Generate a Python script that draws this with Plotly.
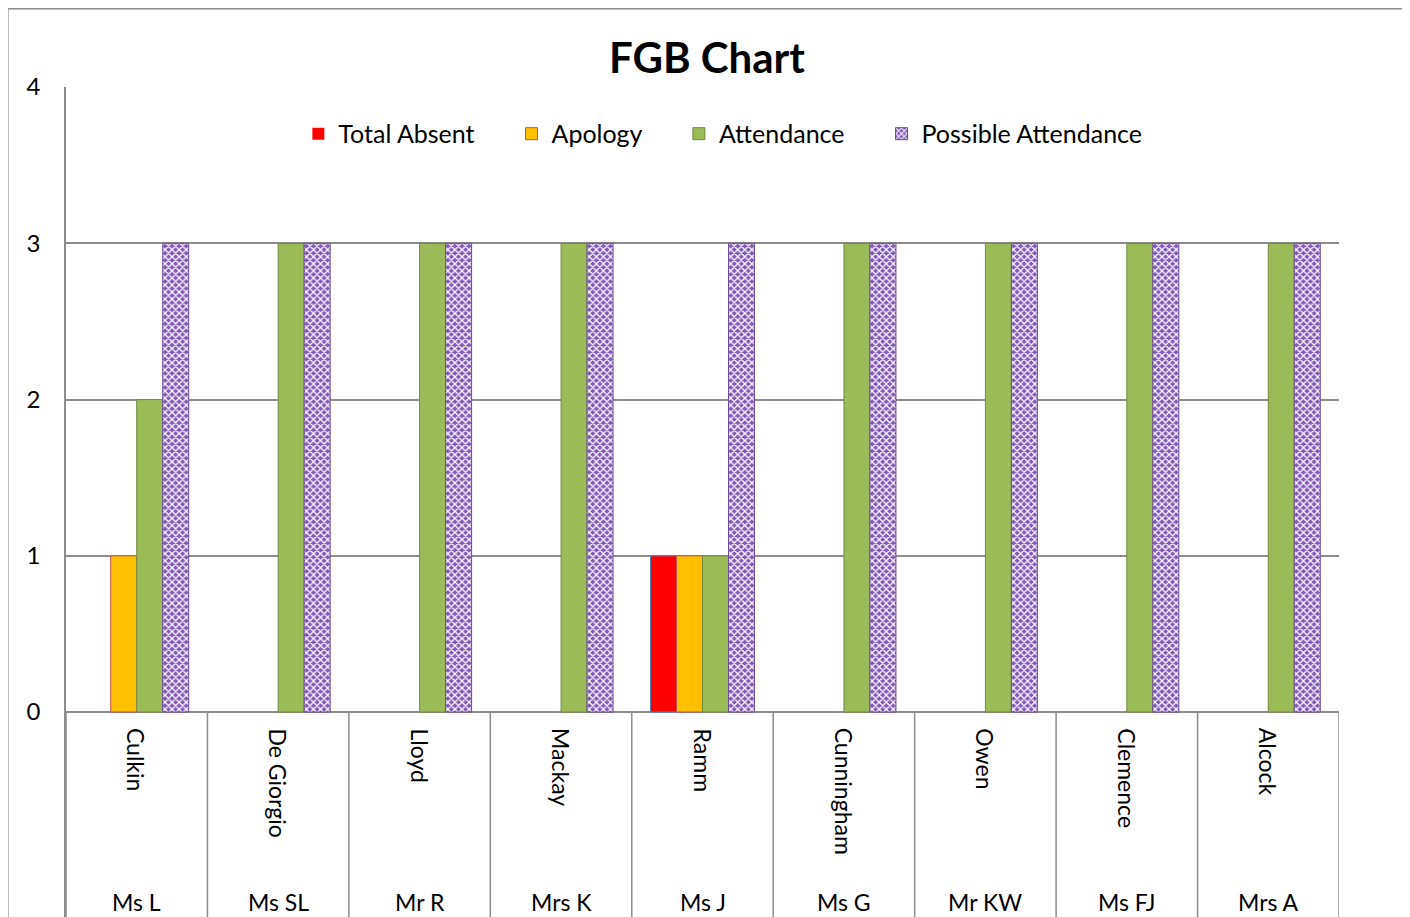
import plotly.graph_objects as go

surnames = ["Culkin", "De Giorgio", "Lloyd", "Mackay", "Ramm", "Cunningham", "Owen", "Clemence", "Alcock"]
titles = ["Ms L", "Ms SL", "Mr R", "Mrs K", "Ms J", "Ms G", "Mr KW", "Ms FJ", "Mrs A"]
total_absent = [0, 0, 0, 0, 1, 0, 0, 0, 0]
apology = [1, 0, 0, 0, 1, 0, 0, 0, 0]
attendance = [2, 3, 3, 3, 1, 3, 3, 3, 3]
possible_attendance = [3, 3, 3, 3, 3, 3, 3, 3, 3]

FONT = "Lato"
GRID = "#8c8c8c"
NB = "\u00a0"


def lw(vals):
    return [1 if v else 0 for v in vals]


fig = go.Figure()
fig.add_bar(x=surnames, y=total_absent, name="Total Absent" + NB * 5,
            marker=dict(color="#FF0000", line=dict(color="#4F81BD", width=lw(total_absent))))
fig.add_bar(x=surnames, y=apology, name="Apology" + NB * 5,
            marker=dict(color="#FFC000", line=dict(color="#C0504D", width=lw(apology))))
fig.add_bar(x=surnames, y=attendance, name="Attendance" + NB * 5,
            marker=dict(color="#9BBB59", line=dict(color="#71893F", width=lw(attendance))))
fig.add_bar(x=surnames, y=possible_attendance, name="Possible Attendance",
            marker=dict(color="#8258B8", line=dict(color="#6A4A96", width=lw(possible_attendance)),
                        pattern=dict(shape="x", fgcolor="white", bgcolor="#8258B8",
                                     size=5, solidity=0.45, fillmode="replace")))

shapes = []
for i in range(len(surnames) + 1):
    shapes.append(dict(type="line", xref="x", yref="y", x0=i - 0.5, x1=i - 0.5,
                       y0=-1.5, y1=0, line=dict(color=GRID, width=1.5)))
shapes.append(dict(type="rect", xref="paper", yref="paper",
                   x0=-0.0457, x1=1.0526, y0=-0.05, y1=1.0935,
                   line=dict(color="#8c8c8c", width=1.5), layer="below"))

annotations = []
for s, t in zip(surnames, titles):
    annotations.append(dict(x=s, y=-0.09, xref="x", yref="y", text=s, textangle=90,
                            showarrow=False, xanchor="center", yanchor="top",
                            font=dict(family=FONT, size=23, color="black")))
    annotations.append(dict(x=s, y=-1.215, xref="x", yref="y", text=t,
                            showarrow=False, xanchor="center", yanchor="middle",
                            font=dict(family=FONT, size=23, color="black")))

fig.update_layout(
    width=1410, height=917,
    margin=dict(l=58, r=79, t=79, b=0),
    paper_bgcolor="white", plot_bgcolor="white",
    title=dict(text="<b>FGB Chart</b>", x=0.5035, xref="paper", xanchor="center",
               y=(917 - 50) / 917, yanchor="middle",
               font=dict(family=FONT, size=42, color="black")),
    barmode="group", bargap=0.265, bargroupgap=0,
    showlegend=True,
    legend=dict(orientation="h", x=0.516, xanchor="center", y=0.944,
                yanchor="middle", font=dict(family=FONT, size=25, color="black"),
                bgcolor="rgba(0,0,0,0)", itemclick=False),
    xaxis=dict(range=[-0.5, 8.5], showticklabels=False, showgrid=False, showline=False,
               zeroline=False, ticks=""),
    yaxis=dict(range=[-1.363, 4.0005], tickvals=[0, 1, 2, 3, 4], showgrid=True,
               gridcolor=GRID, gridwidth=1.5, zeroline=False, showline=True,
               linecolor=GRID, linewidth=1.5, ticks="", ticklabelstandoff=19,
               tickfont=dict(family=FONT, size=24, color="black")),
    shapes=shapes, annotations=annotations,
)

fig.write_html("out.html")
